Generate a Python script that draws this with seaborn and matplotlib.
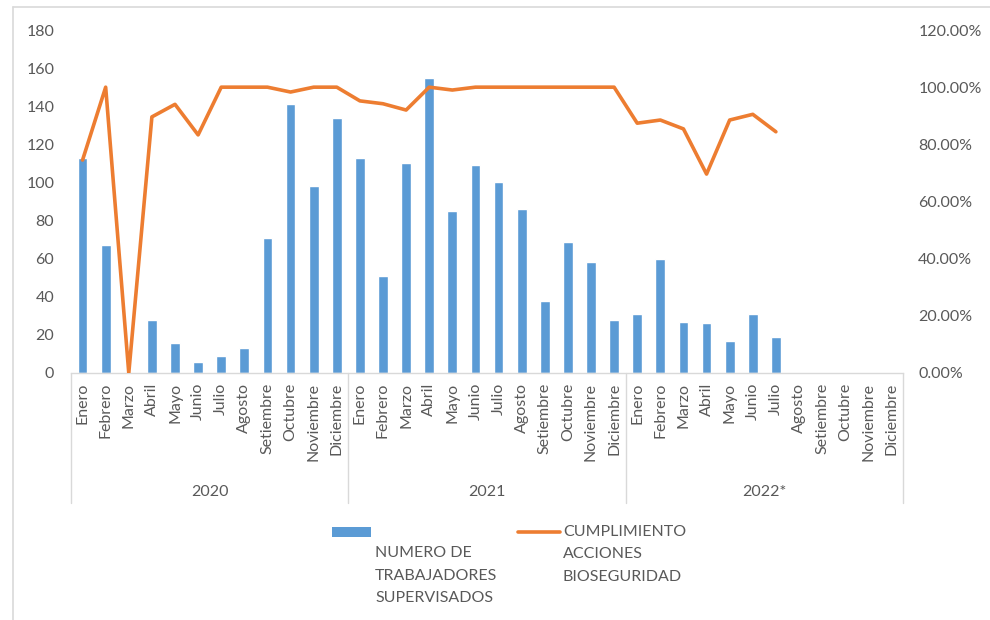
import matplotlib
matplotlib.use("Agg")
import numpy as np
import pandas as pd
import matplotlib.pyplot as plt
import matplotlib.transforms as mtransforms
from matplotlib.lines import Line2D
from matplotlib.patches import Rectangle
import seaborn as sns

# ---------------- data ----------------
months = ["Enero", "Febrero", "Marzo", "Abril", "Mayo", "Junio", "Julio",
          "Agosto", "Setiembre", "Octubre", "Noviembre", "Diciembre"]
years = ["2020", "2021", "2022*"]

trabajadores_2020 = [113, 67, 0, 28, 16, 6, 9, 13, 71, 141, 98, 134]
trabajadores_2021 = [113, 51, 110, 155, 85, 109, 100, 86, 38, 69, 58, 28]
trabajadores_2022 = [31, 60, 27, 26, 17, 31, 19]

cumplimiento_2020 = [0.745, 1.00, 0.00, 0.896, 0.94, 0.833, 1.00, 1.00, 1.00, 0.983, 1.00, 1.00]
cumplimiento_2021 = [0.952, 0.942, 0.92, 1.00, 0.99, 1.00, 1.00, 1.00, 1.00, 1.00, 1.00, 1.00]
cumplimiento_2022 = [0.874, 0.885, 0.854, 0.696, 0.885, 0.905, 0.844]

label_bar = "NUMERO DE\nTRABAJADORES\nSUPERVISADOS"
label_line = "CUMPLIMIENTO\nACCIONES\nBIOSEGURIDAD"

BLUE = "#5B9BD5"
ORANGE = "#ED7D31"
TEXT = "#595959"
GRID = "#D9D9D9"

# ---------------- table ----------------
keys = [f"{y}|{m}" for y in years for m in months]
n_vals = trabajadores_2020 + trabajadores_2021 + trabajadores_2022
p_vals = cumplimiento_2020 + cumplimiento_2021 + cumplimiento_2022
df = pd.DataFrame({
    "key": keys[:len(n_vals)],
    "pos": np.arange(len(n_vals)),
    "n": n_vals,
    "pct": p_vals,
})

sns.set_theme(style="white")
plt.rcParams["font.family"] = ["Lato", "DejaVu Sans"]

W, H = 990, 620
fig = plt.figure(figsize=(W / 100, H / 100), dpi=100)
x0, x1, ytop, ybot = 71, 903, 30, 373
ax = fig.add_axes([x0 / W, 1 - ybot / H, (x1 - x0) / W, (ybot - ytop) / H])

sns.barplot(data=df, x="key", y="n", order=keys, color=BLUE, width=0.42,
            saturation=1, ax=ax)
ax2 = ax.twinx()
sns.lineplot(data=df, x="pos", y="pct", color=ORANGE, linewidth=2.6, ax=ax2,
             solid_joinstyle="round", solid_capstyle="round")

ax.set_xlim(-0.5, len(keys) - 0.5)
ax.set_ylim(0, 180)
ax.set_yticks(np.arange(0, 181, 20))
ax2.set_ylim(0, 1.2)
ax2.set_yticks(np.arange(0, 1.21, 0.2))
ax2.set_yticklabels([f"{v*100:.2f}%" for v in np.arange(0, 1.21, 0.2)])
ax.set_xticks(range(len(keys)))
ax.set_xticklabels(months * len(years), rotation=90)

ax.set_xlabel("")
ax.set_ylabel("")
ax2.set_xlabel("")
ax2.set_ylabel("")

fs = 11.5
ax.tick_params(axis="y", length=0, pad=12, labelsize=fs, labelcolor=TEXT)
ax.tick_params(axis="x", length=0, pad=7, labelsize=fs, labelcolor=TEXT)
ax2.tick_params(axis="y", length=0, pad=11, labelsize=fs, labelcolor=TEXT)
for s in ["top", "right", "left"]:
    ax.spines[s].set_visible(False)
ax.spines["bottom"].set_color(GRID)
ax.spines["bottom"].set_linewidth(1.0)
for s in ax2.spines.values():
    s.set_visible(False)
ax.grid(False)
ax2.grid(False)

# multi-level category axis: separators + year labels
trans = mtransforms.blended_transform_factory(ax.transData, ax.transAxes)
sep_bottom = (ybot - 503) / (ybot - ytop)
year_y = (ybot - 492) / (ybot - ytop)
for i in range(len(years) + 1):
    xs = i * 12 - 0.5
    ax.add_line(Line2D([xs, xs], [0, sep_bottom], transform=trans, color=GRID,
                       lw=1.0, clip_on=False))
for i, y in enumerate(years):
    ax.text(i * 12 + 5.5, year_y, y, transform=trans, ha="center", va="center",
            fontsize=fs, color=TEXT)

# legend (drawn at the bottom, as in the reference)
def fx(px):
    return px / W

def fy(py):
    return 1 - py / H

fig.add_artist(Rectangle((fx(332), fy(537)), fx(371) - fx(332), fy(527) - fy(537),
                         transform=fig.transFigure, color=BLUE, lw=0))
for j, line in enumerate(label_bar.split("\n")):
    fig.text(fx(375), fy(553 + j * 22.5), line, ha="left", va="center",
             fontsize=fs, color=TEXT)
fig.add_artist(Line2D([fx(518), fx(560)], [fy(532), fy(532)],
                      transform=fig.transFigure, color=ORANGE, lw=2.6,
                      solid_capstyle="round"))
for j, line in enumerate(label_line.split("\n")):
    fig.text(fx(563), fy(532 + j * 22.5), line, ha="left", va="center",
             fontsize=fs, color=TEXT)

# outer chart frame (left and top edges visible)
fig.add_artist(Line2D([fx(13), fx(13)], [fy(7), 0], transform=fig.transFigure,
                      color=GRID, lw=1.2))
fig.add_artist(Line2D([fx(13), 1], [fy(7), fy(7)], transform=fig.transFigure,
                      color=GRID, lw=1.2))

fig.savefig("out.png", dpi=100)
